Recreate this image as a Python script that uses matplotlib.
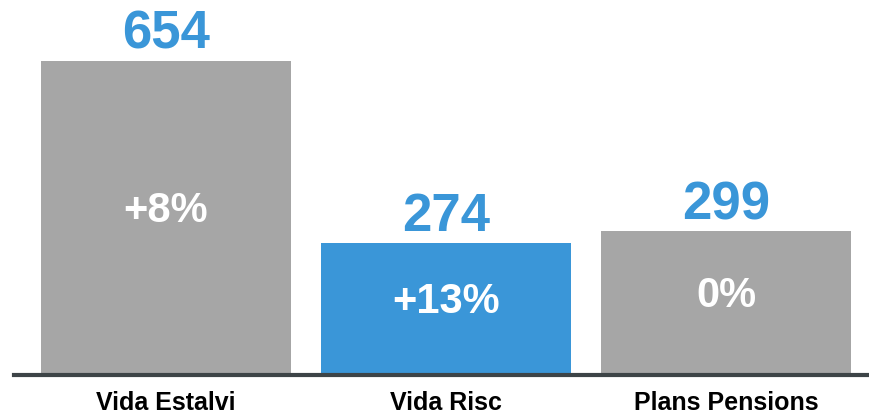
import matplotlib
matplotlib.use("Agg")
import matplotlib.pyplot as plt

categories = ["Vida Estalvi", "Vida Risc", "Plans Pensions"]
values = [654, 274, 299]
growth = ["+8%", "+13%", "0%"]
highlight = [False, True, False]

GRAY = "#a6a6a6"
BLUE = "#3a96d8"
AXIS = "#3d4447"

plt.rcParams["font.family"] = ["Liberation Sans", "DejaVu Sans"]

fig = plt.figure(figsize=(8.7, 4.15), dpi=100)
ax = fig.add_axes([14 / 870, 40 / 415, (870 - 14) / 870, 375 / 415])

x = list(range(len(categories)))
colors = [BLUE if h else GRAY for h in highlight]
bars = ax.bar(x, values, width=250 / 280, color=colors, zorder=2)

for xi, v, g in zip(x, values, growth):
    ax.annotate(str(v), (xi, v), xytext=(0, 1), textcoords="offset points",
                ha="center", va="bottom", fontsize=38, fontweight="bold",
                color=BLUE)
    ax.annotate(g, (xi, v / 2), xytext=(0, 5), textcoords="offset points",
                ha="center", va="center", fontsize=30, fontweight="bold",
                color="white")

ax.set_xlim(-152 / 280, (870 - 14 - 152) / 280)
ax.set_ylim(0, 375 / 0.48)

ax.set_xticks(x)
ax.set_xticklabels(categories, fontsize=18, fontweight="bold", color="black")
ax.tick_params(axis="x", length=0, pad=11.5)
ax.set_yticks([])

for side in ("top", "right", "left"):
    ax.spines[side].set_visible(False)
ax.spines["bottom"].set_color(AXIS)
ax.spines["bottom"].set_linewidth(3)
ax.spines["bottom"].set_zorder(3)

fig.savefig("out.png", dpi=100)
